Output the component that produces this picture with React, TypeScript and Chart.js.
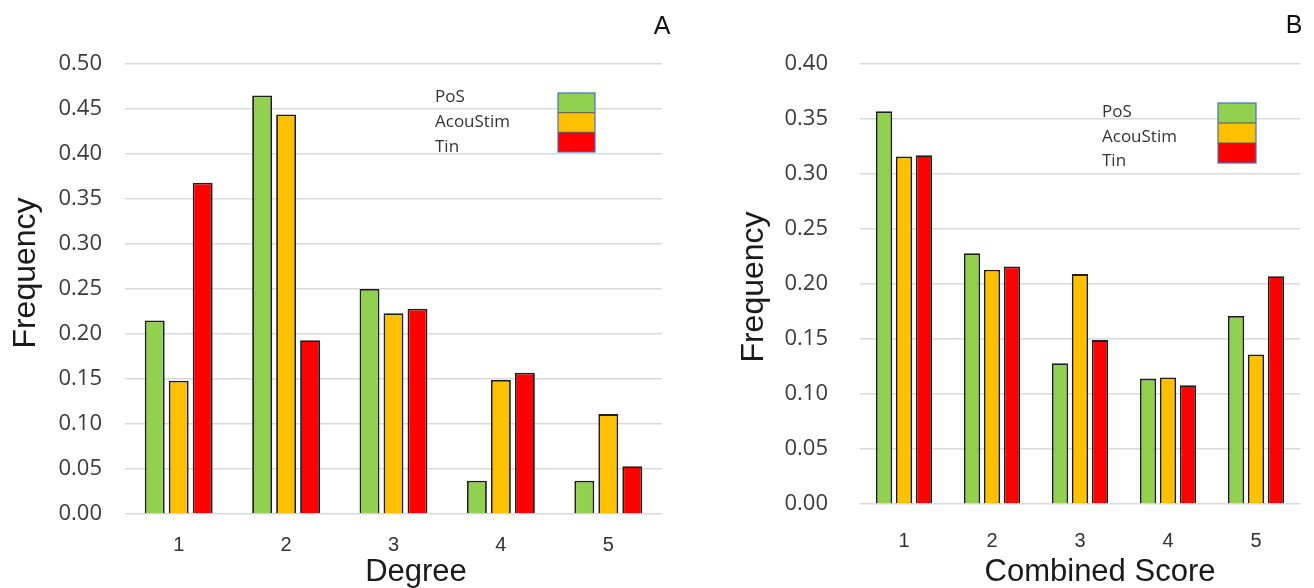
import React, { useEffect, useRef } from "react";
import { Chart, registerables } from "chart.js";

Chart.register(...registerables);

const categories = ["1", "2", "3", "4", "5"];
const seriesNames = ["PoS", "AcouStim", "Tin"];
const seriesColors = ["#92D050", "#FFC000", "#FF0000"];

const degreePoS = [0.215, 0.465, 0.25, 0.037, 0.037];
const degreeAcouStim = [0.148, 0.444, 0.223, 0.149, 0.111];
const degreeTin = [0.368, 0.193, 0.228, 0.157, 0.053];

const scorePoS = [0.357, 0.228, 0.128, 0.114, 0.171];
const scoreAcouStim = [0.316, 0.213, 0.209, 0.115, 0.136];
const scoreTin = [0.317, 0.216, 0.149, 0.108, 0.207];

const TICK_FONT = "'Open Sans', sans-serif";
const TITLE_FONT = "'Liberation Sans', Arial, sans-serif";

type PanelCfg = {
  letter: string;
  letterX: number;
  letterY: number;
  xTitle: string;
  xTitleX: number;
  xTitleY: number;
  yTitleX: number;
  yTitleY: number;
  values: number[][];
  yMax: number;
  padRight: number;
  yWidth: number;
  yTickPad: number;
  xHeight: number;
  xTickPad: number;
  catPct: number;
  barPct: number;
  legendTextX: number;
  legendTextY: number[];
  legendBoxX: number;
  legendBoxY: number;
  legendBoxW: number;
  legendBoxH: number;
};

function makePanelPlugin(cfg: PanelCfg) {
  return {
    id: "panelDecor" + cfg.letter,
    afterDraw(chart: any) {
      const ctx = chart.ctx;
      ctx.save();
      // panel letter
      ctx.fillStyle = "#111";
      ctx.font = `25px ${TITLE_FONT}`;
      ctx.textAlign = "center";
      ctx.textBaseline = "middle";
      ctx.fillText(cfg.letter, cfg.letterX, cfg.letterY);
      // axis titles
      ctx.fillStyle = "#1a1a1a";
      ctx.font = `31px ${TITLE_FONT}`;
      ctx.fillText(cfg.xTitle, cfg.xTitleX, cfg.xTitleY);
      ctx.save();
      ctx.translate(cfg.yTitleX, cfg.yTitleY);
      ctx.rotate(-Math.PI / 2);
      ctx.font = `32px ${TITLE_FONT}`;
      ctx.fillText("Frequency", 0, 0);
      ctx.restore();
      // legend text
      ctx.font = `17px ${TICK_FONT}`;
      ctx.textAlign = "left";
      ctx.fillStyle = "#333";
      seriesNames.forEach((n, i) => {
        ctx.fillText(n, cfg.legendTextX, cfg.legendTextY[i]);
      });
      // legend boxes
      const segH = cfg.legendBoxH / 3;
      seriesColors.forEach((c, i) => {
        ctx.fillStyle = c;
        ctx.fillRect(cfg.legendBoxX, cfg.legendBoxY + i * segH, cfg.legendBoxW, segH);
      });
      ctx.strokeStyle = "#555";
      ctx.lineWidth = 1;
      for (let i = 1; i < 3; i++) {
        ctx.beginPath();
        ctx.moveTo(cfg.legendBoxX, cfg.legendBoxY + i * segH);
        ctx.lineTo(cfg.legendBoxX + cfg.legendBoxW, cfg.legendBoxY + i * segH);
        ctx.stroke();
      }
      ctx.strokeStyle = "#4472C4";
      ctx.lineWidth = 1.2;
      ctx.strokeRect(cfg.legendBoxX, cfg.legendBoxY, cfg.legendBoxW, cfg.legendBoxH);
      ctx.restore();
    },
  };
}

function Panel({ cfg, left, width }: { cfg: PanelCfg; left: number; width: number }) {
  const ref = useRef<HTMLCanvasElement>(null);
  useEffect(() => {
    if (!ref.current) return;
    const chart = new Chart(ref.current, {
      type: "bar",
      data: {
        labels: categories,
        datasets: seriesNames.map((name, i) => ({
          label: name,
          data: cfg.values[i],
          backgroundColor: seriesColors[i],
          borderColor: "#1e1e1e",
          borderWidth: 1.8,
          categoryPercentage: cfg.catPct,
          barPercentage: cfg.barPct,
        })),
      },
      options: {
        animation: false,
        responsive: false,
        maintainAspectRatio: false,
        layout: { padding: { top: 64, left: 0, right: cfg.padRight, bottom: 0 } },
        plugins: { legend: { display: false }, title: { display: false }, tooltip: { enabled: false } },
        scales: {
          x: {
            grid: { display: false, drawTicks: false },
            border: { display: false },
            ticks: {
              color: "#333",
              font: { family: TITLE_FONT, size: 20 },
              padding: cfg.xTickPad,
              maxRotation: 0,
            },
            title: { display: false },
            afterFit: (s: any) => {
              s.height = cfg.xHeight;
            },
          },
          y: {
            min: 0,
            max: cfg.yMax,
            grid: { color: "#d9d9d9", lineWidth: 1.5, drawTicks: false },
            border: { display: false },
            ticks: {
              stepSize: 0.05,
              color: "#3a3a3a",
              font: { family: TICK_FONT, size: 22 },
              padding: cfg.yTickPad,
              callback: (v: any) => Number(v).toFixed(2),
            },
            title: { display: false },
            afterFit: (s: any) => {
              s.width = cfg.yWidth;
            },
          },
        },
      },
      plugins: [makePanelPlugin(cfg)],
    });
    return () => chart.destroy();
  }, []);
  return (
    <canvas
      ref={ref}
      width={width}
      height={588}
      style={{ position: "absolute", left, top: 0, width, height: 588 }}
    />
  );
}

const panelA: PanelCfg = {
  letter: "A",
  letterX: 662,
  letterY: 27,
  xTitle: "Degree",
  xTitleX: 416,
  xTitleY: 572,
  yTitleX: 26,
  yTitleY: 273,
  values: [degreePoS, degreeAcouStim, degreeTin],
  yMax: 0.5,
  padRight: 28,
  yWidth: 125,
  yTickPad: 23,
  xHeight: 74,
  xTickPad: 19,
  catPct: 0.67,
  barPct: 0.83,
  legendTextX: 435,
  legendTextY: [97, 122, 147],
  legendBoxX: 558,
  legendBoxY: 93,
  legendBoxW: 37,
  legendBoxH: 59,
};

const panelB: PanelCfg = {
  letter: "B",
  letterX: 594,
  letterY: 26,
  xTitle: "Combined Score",
  xTitleX: 400,
  xTitleY: 572,
  yTitleX: 54,
  yTitleY: 287,
  values: [scorePoS, scoreAcouStim, scoreTin],
  yMax: 0.4,
  padRight: 14,
  yWidth: 160,
  yTickPad: 32,
  xHeight: 84,
  xTickPad: 25,
  catPct: 0.68,
  barPct: 0.82,
  legendTextX: 402,
  legendTextY: [112, 137, 161],
  legendBoxX: 518,
  legendBoxY: 103,
  legendBoxW: 38,
  legendBoxH: 60,
};

export default function App() {
  return (
    <div style={{ position: "fixed", left: 0, top: 0, width: 1314, height: 588, background: "#fff" }}>
      <Panel cfg={panelA} left={0} width={690} />
      <Panel cfg={panelB} left={700} width={614} />
    </div>
  );
}
